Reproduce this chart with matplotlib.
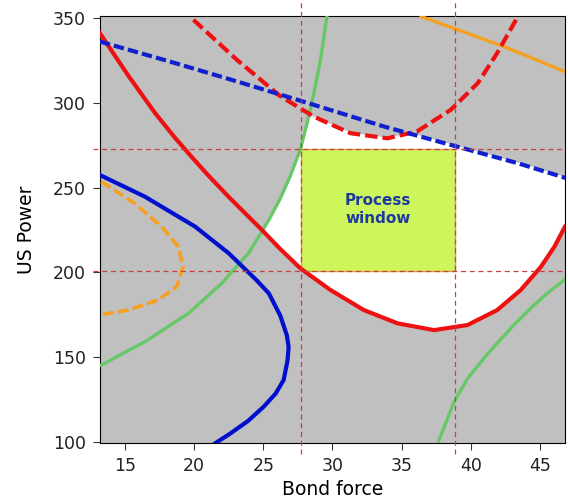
import matplotlib.pyplot as plt
import numpy as np

# curves (Bond force, US Power)
red_x = [13.19, 15.24, 17.17, 18.6, 19.83, 21.04, 22.5, 24.9, 26.2, 27.68, 29.86, 32.27,
         34.7, 37.34, 39.76, 41.9, 43.6, 45.07, 46.04, 46.8]
red_y = [341, 316, 294, 279.5, 268, 257, 244.5, 225, 214, 202.4, 189.6, 177.8,
         170, 166, 169, 177.8, 189.6, 203.4, 215.2, 227]

red_d_x = [19.95, 23.1, 26.2, 28.65, 31.3, 33.96, 36.1, 38.55, 40.5, 41.9, 43.4]
red_d_y = [348.8, 325.2, 304, 291.8, 282, 279, 283, 295.8, 311.5, 329.2, 350.8]

blue_d_x = [13.19, 18.26, 23.1, 27.9, 33.7, 38.55, 43.4, 46.9]
blue_d_y = [336, 324.2, 312.5, 300.6, 286, 275.1, 264.3, 255.5]

blue_x = [13.19, 16.45, 20.07, 22.5, 24.5, 25.4, 26.23, 26.7, 26.83, 26.75, 26.47, 25.9,
          25.02, 23.9, 22.6, 21.5]
blue_y = [257.4, 244.6, 227, 211.3, 195.5, 187.7, 174.5, 163, 156.2, 148, 136.6, 128.7,
          120.8, 112.5, 105, 99.2]

orange_d_x = [13.3, 15.7, 17.66, 18.86, 19.2, 18.75, 17.4, 15.24, 13.19]
orange_d_y = [253.5, 240.7, 227, 215.2, 203.4, 191.6, 183.7, 177.8, 174.9]

green_x = [13.3, 16.45, 19.6, 22.0, 23.93, 25.4, 26.2, 26.96, 27.68, 28.17, 28.64, 29.13, 29.6]
green_y = [145.4, 159.2, 175.9, 193.6, 211.3, 230.9, 243, 257, 272.5, 288, 305, 325, 350.8]

green2_x = [37.6, 38.8, 39.76, 41.2, 43.1, 44.6, 45.56, 46.9]
green2_y = [99.2, 124, 137.5, 152, 169, 181, 188, 196.5]

orange_x = [36.4, 42.4, 46.76]
orange_y = [350.8, 333, 318.4]

# white feasible area outline
white_x = [24.9, 25.4, 26.2, 26.96, 27.68, 28.17, 28.3, 31.3, 33.96, 35.65, 38.55, 43.4, 46.9,
           46.8, 46.04, 45.07, 43.6, 41.9, 39.76, 37.34, 34.7, 32.27, 29.86, 27.68, 26.2]
white_y = [225, 230.9, 243, 257, 272.5, 288, 292.5, 282, 279, 281.7, 275.1, 264.3, 255.5,
           227, 215.2, 203.4, 189.6, 177.8, 169, 166, 170, 177.8, 189.6, 202.4, 214]

# process window limits
force_lo, force_hi = 27.75, 38.85
power_lo, power_hi = 201, 272.8

fig = plt.figure(figsize=(5.68, 5.03), dpi=100)
ax = fig.add_axes([0.176, 0.1193, 0.8187, 0.8487])
ax.set_facecolor("#c0c0c0")

ax.fill(white_x, white_y, color="white", zorder=1)
ax.add_patch(plt.Rectangle((force_lo, power_lo), force_hi - force_lo, power_hi - power_lo,
                           facecolor="#cdf55c", edgecolor="#d9a040", lw=1, zorder=2))
ax.text((force_lo + force_hi) / 2, 237, "Process\nwindow", color="#1f3a9e",
        fontsize=11, fontweight="bold", ha="center", va="center", zorder=3,
        linespacing=1.25)

ax.plot(green_x, green_y, color="#66c866", lw=2.4, zorder=4)
ax.plot(green2_x, green2_y, color="#66c866", lw=2.4, zorder=4)
ax.plot(orange_x, orange_y, color="#f5a020", lw=2.4, zorder=4)
ax.plot(orange_d_x, orange_d_y, color="#f5a020", lw=2.6, ls=(0, (3, 1.2)), zorder=4)
ax.plot(blue_x, blue_y, color="#0010cc", lw=3, zorder=5)
ax.plot(red_x, red_y, color="#ee1111", lw=3, zorder=5)
ax.plot(red_d_x, red_d_y, color="#ee1111", lw=3, ls=(0, (3, 1.2)), zorder=5)
ax.plot(blue_d_x, blue_d_y, color="#1020cc", lw=3, ls=(0, (2.5, 1)), zorder=6)

for v in [force_lo, force_hi]:
    ax.axvline(v, ymin=-0.025, ymax=1.037, color="#c84040", lw=0.9, ls=(0, (4, 3)),
               clip_on=False, zorder=7)
for v in [power_lo, power_hi]:
    ax.axhline(v, xmin=-0.015, xmax=1, color="#c84040", lw=0.9, ls=(0, (4, 3)),
               clip_on=False, zorder=7)

ax.set_xlim(13.2, 46.8)
ax.set_ylim(99.5, 351)
ax.set_xticks([15, 20, 25, 30, 35, 40, 45])
ax.set_yticks([100, 150, 200, 250, 300, 350])
ax.tick_params(labelsize=12.5, length=5, pad=5, colors="#333333", labelcolor="#222222")
ax.set_xlabel("Bond force", fontsize=13.5, labelpad=4)
ax.set_ylabel("US Power", fontsize=13.5, labelpad=12)

fig.savefig("out.png", dpi=100)
